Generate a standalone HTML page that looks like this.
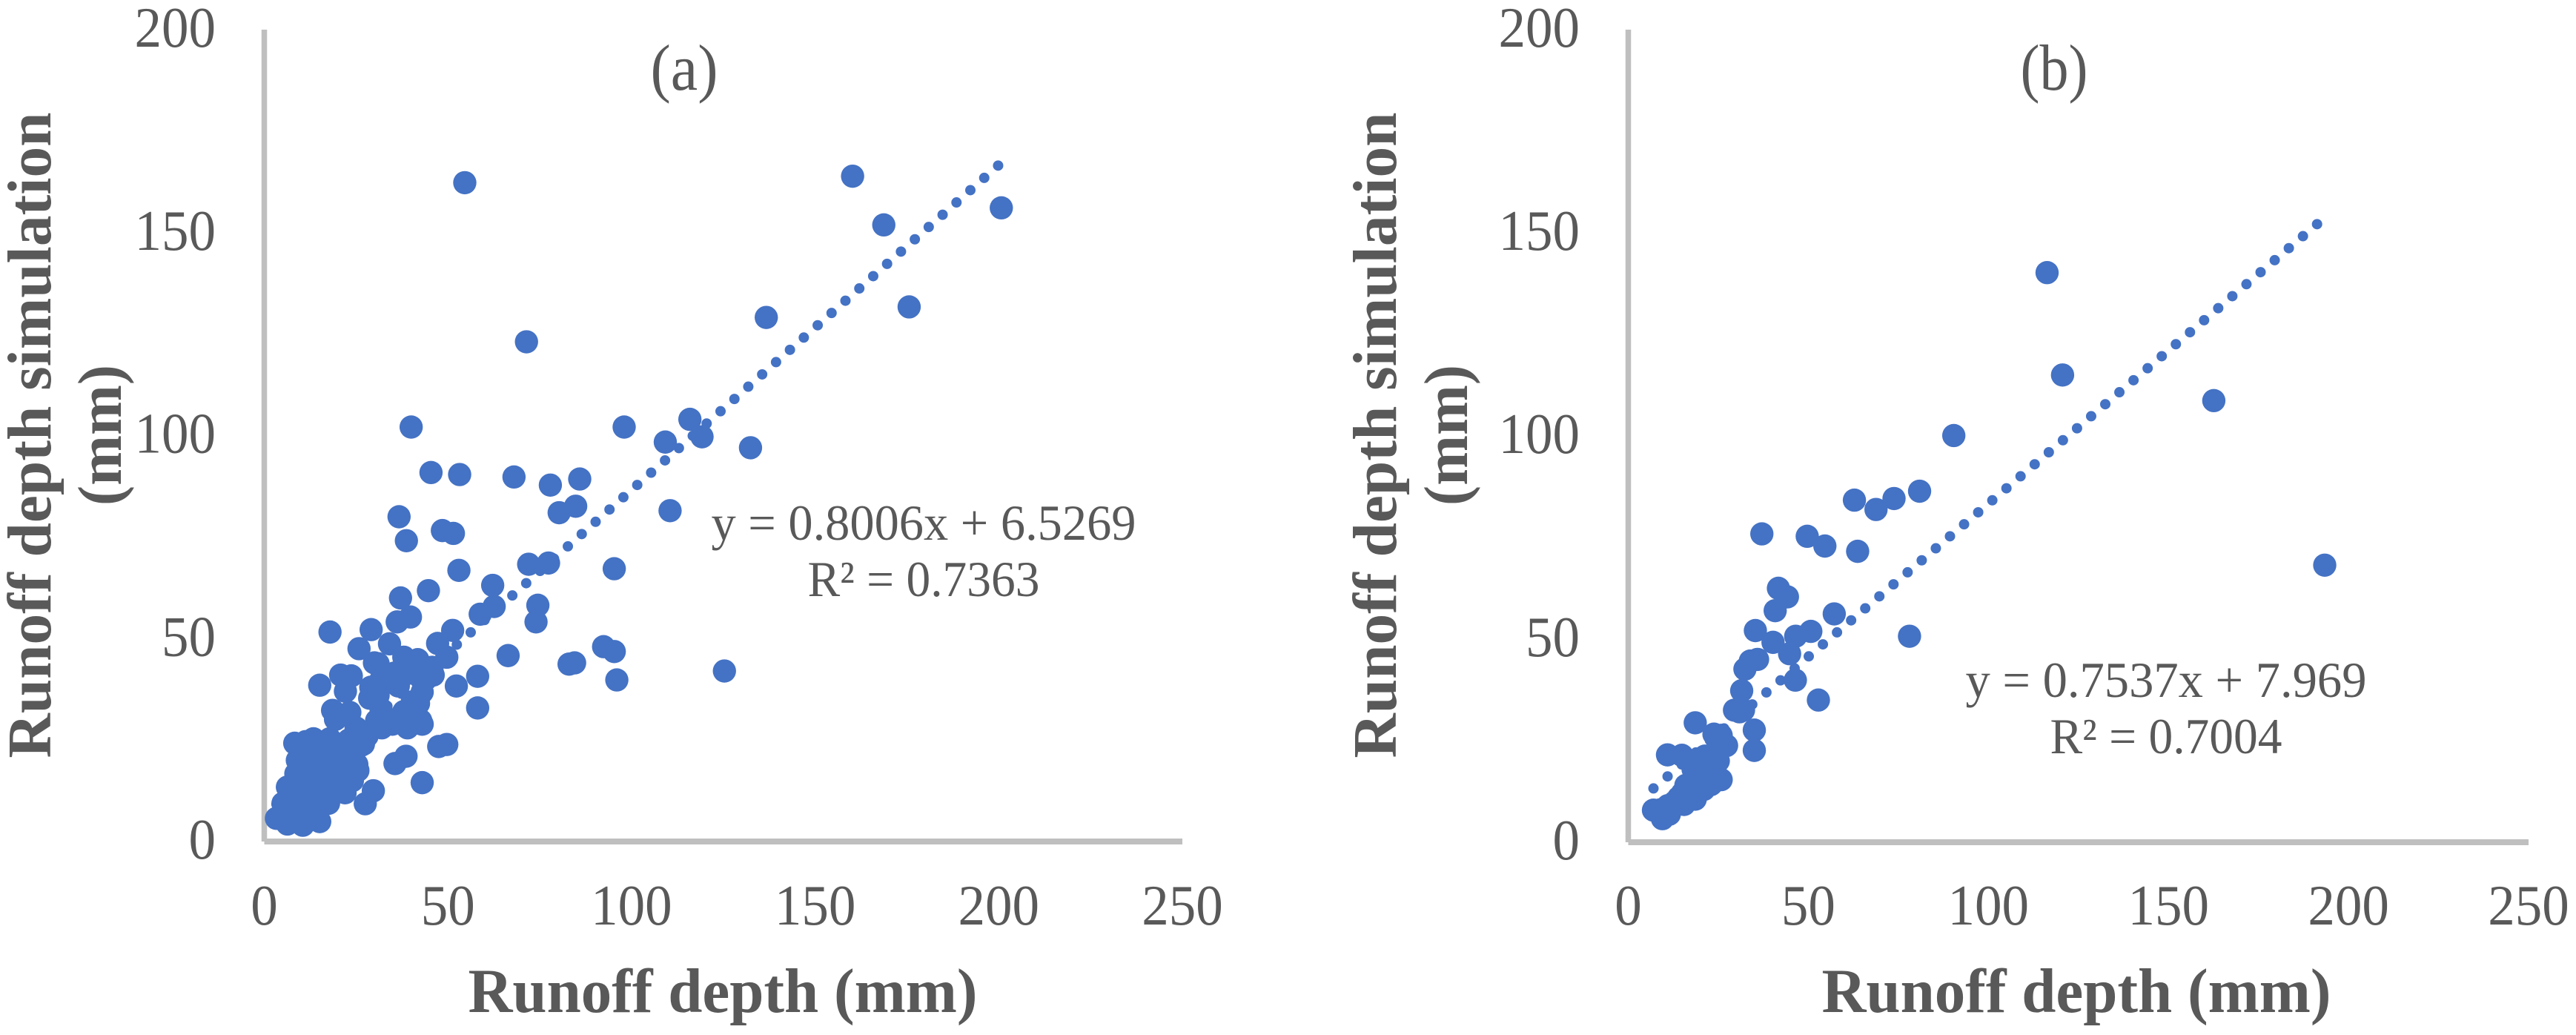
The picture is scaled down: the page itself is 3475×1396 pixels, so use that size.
<!DOCTYPE html>
<html lang="en">
<head>
<meta charset="utf-8">
<title>Runoff depth simulation scatter charts</title>
<style>
html,body{margin:0;padding:0;background:#fff;width:3475px;height:1396px;overflow:hidden}
svg{display:block;font-family:"Liberation Serif",serif}
</style>
</head>
<body>
<svg id="chart" xmlns="http://www.w3.org/2000/svg" width="3475" height="1396" viewBox="0 0 3475 1396">
<rect x="0" y="0" width="3475" height="1396" fill="#ffffff"/>
<g id="panel-a"></g>
<g id="panel-b"></g>
</svg>
<script>
const xTickLabels = [0, 50, 100, 150, 200, 250];
const yTickLabels = [0, 50, 100, 150, 200];
const xAxisMax = 250;
const yAxisMax = 200;

const observedA = [54.6,160.2,168.7,200.7,175.6,136.7,71.4,40,98,115.9,109.2,119.2,132.4,45.4,53.2,68,77.9,85.9,80.3,84.8,110.5,36.7,38.7,48.5,51.5,53,72,77.4,95.3,44.7,62.2,37.1,62.6,58.8,74.5,74,39.8,36.2,29.1,17.9,51.3,47.2,34.1,25.8,49.7,66.4,92.4,95.3,83,84.5,125.3,96,58.1,52.3,58.1,15.1,20.8,23.7,22.1,18.6,23.3,19.4,31,38,41.8,29,28.7,45.7,41,35.5,31.8,36.4,43,42.6,43,34.9,30.6,38,31.8,40.3,49.7,47.5,38.6,35.6,43,29.7,27.5,30,33,36.5,38,42,44,46,31,36,39,41,42,31,32,28,27,25,23,24,22,20,18,16,14,12,10,8.3,11.3,13.4,17.8,25.6,26.4,25.2,25.5,24,22,20,18,16,14,12,10,8.6,8,7,6.3,6,5.1,8,10,12,14,16,18,20,22,17.5,15.1,13,11,9,7,3.3,6.3,10.5,13,5,19,21,23,15,17,11,9,12];
const simulatedA = [162.3,163.9,151.9,156.1,131.7,129.1,123.1,102.1,102.1,104,98.4,99.7,97,90.9,90.4,89.8,87.8,89.3,81,82.6,81.5,80,74.1,76.6,75.9,66.8,68.3,68.6,67.2,61.8,63.1,60,57.9,56,58.2,54.1,55.3,54.1,52.2,51.6,52,48.8,48.7,47.5,45.4,45.8,48,46.8,43.7,44,42,39.8,40.7,38.3,32.9,38.5,41,40.8,37,32.3,31.8,30.1,43.8,45.4,44.8,38,35.3,42.9,41.7,41.5,39.9,39.9,36.8,29.8,28.9,28.9,29.8,32,32.6,34.4,23.9,23.4,21,19.2,14.5,12.5,9.3,44,41,38.3,41,43,40,41,36,30,28,33,34,30,28,26,24,28,25,22,20,23,21,23,24,22,23,24.2,24.6,25.3,25.3,26.5,23.7,19,17.5,15,17,18,16,18,19,18,17,16.7,14,12.5,13.4,10,9.4,9,11,13,14,12,11,13,12,9.4,4.9,7,6,7,6,5.7,4.3,4,10,6.5,14,15,20,21,20,20,20,15];

const observedB = [116.3,120.6,162.6,90.4,193.4,80.9,73.8,68.8,62.8,63.7,54.6,49.7,37.1,78.1,41.7,44.2,40.8,57.2,35.3,40.2,46.5,50.7,44.8,35.9,33.9,32.4,46.4,52.8,31.5,30.9,29.5,32,35,35,18.6,10.9,14.9,23.8,25.8,27.3,25.8,23,18.6,15.5,11.4,9.5,7,21.3,24,24,22,20,19,17,15,13,11,9,18,20,21,18,16,14,12,22,25];
const simulatedB = [140.2,115,108.7,100.1,68.2,86.4,84.6,81.9,84.2,71.6,72.9,75.3,75.9,50.7,62.5,60.4,57,56.2,52.1,49.2,50.7,51.9,46.4,45,44.6,42.6,39.9,35,37.3,32.1,32.5,32.5,27.6,22.6,29.4,21.5,21.4,26.6,26.3,23.8,15.4,14.2,10.6,9.3,6.9,5.8,7.9,21.2,22,18,17,19,16,14,12,10,9,8,13,14,13,18,14,11,9,19,20];

const slopeA = 0.8006, interceptA = 6.5269, trendStartA = 3.3, trendEndA = 200.7;
const slopeB = 0.7537, interceptB = 7.969, trendStartB = 7, trendEndB = 193.4;

const SVGNS = 'http://www.w3.org/2000/svg';
function make(parent, tag, attrs, text) {
  const el = document.createElementNS(SVGNS, tag);
  for (const k in attrs) el.setAttribute(k, attrs[k]);
  if (text !== undefined) el.textContent = text;
  parent.appendChild(el);
  return el;
}
function label(parent, x, y, str, size, weight, anchor, len, rot) {
  const attrs = {x: x, y: y, 'font-size': size, fill: '#595959', 'text-anchor': anchor};
  if (weight) attrs['font-weight'] = weight;
  if (len) { attrs.textLength = len; attrs.lengthAdjust = 'spacingAndGlyphs'; }
  if (rot) attrs.transform = 'rotate(-90 ' + x + ' ' + y + ')';
  return make(parent, 'text', attrs, str);
}

function drawPanel(g, cfg, xs, ys, slope, intercept, trendStart, trendEnd) {
  const sx = v => cfg.x0 + (v / xAxisMax) * (cfg.x1 - cfg.x0);
  const sy = v => cfg.y0 - (v / yAxisMax) * (cfg.y0 - cfg.y1);

  const yAxis = make(g, 'line', {x1: sx(0), y1: cfg.y1, x2: sx(0), y2: cfg.y0, stroke: '#bfbfbf', 'stroke-width': 7.5});
  
  
  const xAxis = make(g, 'line', {x1: sx(0), y1: cfg.y0, x2: cfg.x1, y2: cfg.y0, stroke: '#bfbfbf', 'stroke-width': 8});
  
  

  xTickLabels.forEach(function (t) {
    const el = label(g, sx(t), 1247, String(t), 77, '', 'middle', String(t).length * 36.5);
    
    
  });
  yTickLabels.forEach(function (t) {
    const el = label(g, cfg.yTickRight, sy(t) + 23, String(t), 77, '', 'end', String(t).length * 36.5);
    
    
  });

  xs.forEach(function (x, i) {
    const c = make(g, 'circle', {cx: sx(x), cy: sy(ys[i]), r: 15.7, fill: '#4472c4'});
    
    
  });

  const trend = make(g, 'line', {
    x1: sx(trendStart), y1: sy(slope * trendStart + intercept),
    x2: sx(trendEnd), y2: sy(slope * trendEnd + intercept),
    stroke: '#4472c4', 'stroke-width': 14, 'stroke-linecap': 'round', 'stroke-dasharray': '0 25'
  });
  
  

  const title = label(g, cfg.titleX, 121, cfg.title, 88, '', 'middle', 91);
  
  
  const eq = label(g, cfg.eqX, cfg.eqY, cfg.eq, 68, '', 'middle', cfg.eqLen);
  
  
  const r2 = label(g, cfg.eqX, cfg.eqY + 76, cfg.r2, 68, '', 'middle', 313);
  
  
  const xTitle = label(g, cfg.xTitleX, 1365, 'Runoff depth (mm)', 85, 'bold', 'middle', 687);
  
  
  const yT1 = label(g, cfg.yTitleX, 587, 'Runoff depth simulation', 84, 'bold', 'middle', 871, true);
  
  
  const yT2 = label(g, cfg.yTitle2X, 587, '(mm)', 84, 'bold', 'middle', 190, true);
  
  
}

drawPanel(document.getElementById('panel-a'), {
  x0: 356.5, x1: 1595, y0: 1135, y1: 40, yTickRight: 291,
  title: '(a)', titleX: 923, eq: 'y = 0.8006x + 6.5269', eqX: 1246, eqY: 728, eqLen: 573,
  r2: 'R² = 0.7363', xTitleX: 975, yTitleX: 68, yTitle2X: 163
}, observedA, simulatedA, slopeA, interceptA, trendStartA, trendEndA);

drawPanel(document.getElementById('panel-b'), {
  x0: 2196.5, x1: 3411, y0: 1136, y1: 40, yTickRight: 2131,
  title: '(b)', titleX: 2771, eq: 'y = 0.7537x + 7.969', eqX: 2922, eqY: 940, eqLen: 541,
  r2: 'R² = 0.7004', xTitleX: 2801, yTitleX: 1883, yTitle2X: 1979
}, observedB, simulatedB, slopeB, interceptB, trendStartB, trendEndB);
</script>
</body>
</html>
